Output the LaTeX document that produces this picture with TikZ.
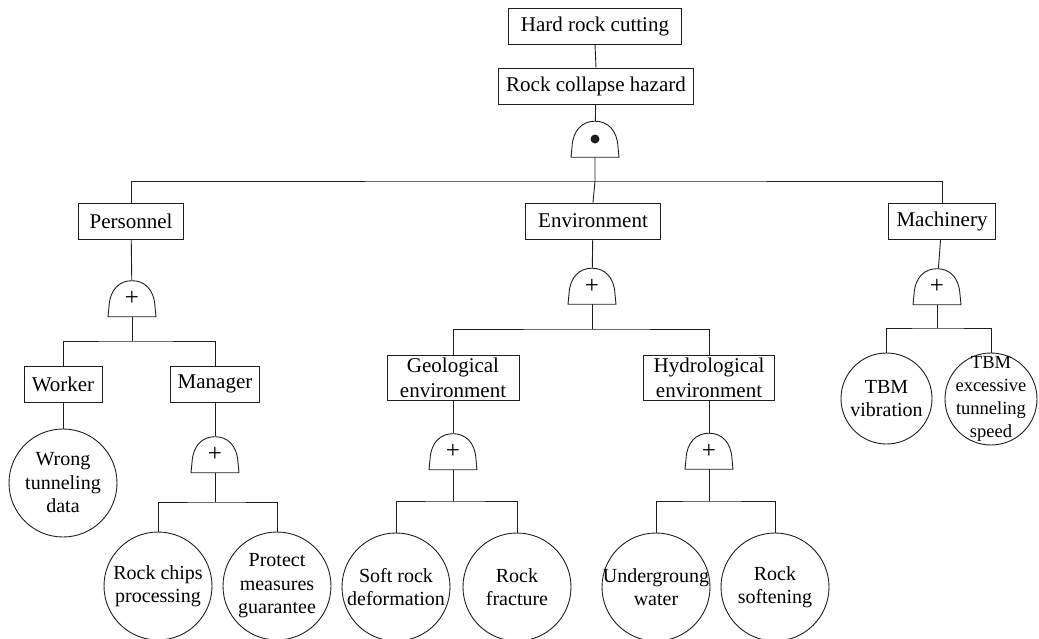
\documentclass[tikz,border=0pt]{standalone}
\definecolor{ftink}{RGB}{30,30,30}
\usepackage{fontspec}
\setmainfont{Liberation Serif}
\usepackage{tikz}
\tikzset{
  event/.style={draw=ftink,line width=0.9pt,inner xsep=6pt,inner ysep=3pt,minimum height=36pt,align=center,font=\fontsize{21}{25}\selectfont},
  basic/.style={draw=ftink,line width=0.9pt,circle,inner sep=-10pt,minimum size=108pt,align=center,font=\fontsize{20}{23.5}\selectfont},
  gate/.style={minimum width=48pt,minimum height=36pt,inner sep=0pt,font=\fontsize{25}{25}\selectfont},
  link/.style={draw=ftink,line width=0.9pt}
}
\newcommand{\gateshape}[1]{%
  \draw[link] (#1.south) ++(-24pt,0pt) -- ++(1pt,10pt)
    .. controls +(1pt,18pt) and +(-12pt,0pt) .. ++(23pt,26pt)
    .. controls +(12pt,0pt) and +(-1pt,18pt) .. ++(23pt,-26pt)
    -- ++(1pt,-10pt) -- cycle;}
\begin{document}
\begin{tikzpicture}[x=1pt,y=-1pt]
        \useasboundingbox (0,0) rectangle (1039,638);
        \node[event,minimum width=173pt] (hard) at (595,26) {Hard rock cutting};
        \node[event,minimum width=195pt] (hazard) at (596,86) {Rock collapse hazard};
        \node[gate] (g0) at (595,139) {};
        \gateshape{g0}
        \fill[ftink] (g0) circle (4.5pt);
        \draw[link] (hard.south) -- (hazard.north);
        \draw[link] (hazard) -- (g0);
        \node[event,minimum width=105pt] (pers) at (131,221) {Personnel};
        \node[event,minimum width=135pt] (env) at (593,221) {Environment};
        \node[event,minimum width=107pt] (mach) at (942,221) {Machinery};
        \coordinate (b0) at (595,181);
        \draw[link] (g0.south) -- (b0) -- (env.north);
        \draw[link] (pers.north) |- (b0) -| (mach.north);

        \node[gate] (gp) at (132,298.5) {+};
        \gateshape{gp}
        \draw[link] (pers) -- (gp);
        \node[event,minimum width=78pt] (worker) at (63,384) {Worker};
        \node[event,minimum width=89pt] (manager) at (215,384) {Manager};
        \coordinate (bp) at (132,341);
        \draw[link] (gp.south) -- (bp);
        \draw[link] (worker.north) |- (bp) -| (manager.north);
        \node[basic] (wrong) at (63,483) {Wrong\\tunneling\\data};
        \draw[link] (worker) -- (wrong);
        \node[gate] (gm) at (215,454.5) {+};
        \gateshape{gm}
        \draw[link] (manager) -- (gm);
        \node[basic] (chips) at (158,586) {Rock chips\\processing};
        \node[basic] (protect) at (277,586) {Protect\\measures\\guarantee};
        \coordinate (bm) at (215,502);
        \draw[link] (gm.south) -- (bm);
        \draw[link] (chips.north) |- (bm) -| (protect.north);

        \node[gate] (ge) at (592,286) {+};
        \gateshape{ge}
        \draw[link] (env) -- (ge);
        \node[event,minimum width=132pt] (geo) at (453,378) {Geological\\environment};
        \node[event,minimum width=131pt] (hydro) at (709,378) {Hydrological\\environment};
        \coordinate (be) at (592,329);
        \draw[link] (ge.south) -- (be);
        \draw[link] (geo.north) |- (be) -| (hydro.north);
        \node[gate] (gg) at (453,451.5) {+};
        \gateshape{gg}
        \draw[link] (geo) -- (gg);
        \node[basic] (soft) at (396,587) {Soft rock\\deformation};
        \node[basic] (fracture) at (517,587) {Rock\\fracture};
        \coordinate (bg) at (453,501);
        \draw[link] (gg.south) -- (bg);
        \draw[link] (soft.north) |- (bg) -| (fracture.north);
        \node[gate] (gh) at (709,451) {+};
        \gateshape{gh}
        \draw[link] (hydro) -- (gh);
        \node[basic] (water) at (656,587) {Undergroung\\water};
        \node[basic] (soften) at (775,587) {Rock\\softening};
        \coordinate (bh) at (709,501);
        \draw[link] (gh.south) -- (bh);
        \draw[link] (water.north) |- (bh) -| (soften.north);

        \node[gate] (gc) at (937,286.5) {+};
        \gateshape{gc}
        \draw[link] (mach) -- (gc);
        \node[basic,minimum size=91pt] (vib) at (886.5,398.5) {TBM\\vibration};
        \node[basic,minimum size=92pt,font=\fontsize{18.5}{23}\selectfont] (speed) at (991,399) {TBM\\excessive\\tunneling\\speed};
        \coordinate (bc) at (937,328);
        \draw[link] (gc.south) -- (bc);
        \draw[link] (vib.north) |- (bc) -| (speed.north);
\end{tikzpicture}
\end{document}
